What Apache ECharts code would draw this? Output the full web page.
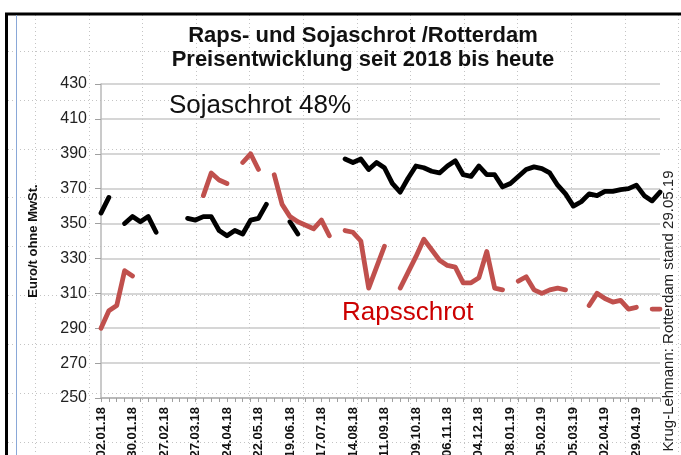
<!DOCTYPE html>
<html>
<head>
<meta charset="utf-8">
<script src="https://cdn.jsdelivr.net/npm/echarts@6/dist/echarts.min.js"></script>
<style>
  html, body { margin: 0; padding: 0; background: #fff; }
  #chart { width: 681px; height: 455px; }
</style>
</head>
<body>
<div id="chart"></div>
<script>
// weekly quotation dates (Rotterdam)
const dates = [
  '02.01.18', '09.01.18', '16.01.18', '23.01.18', '30.01.18', '06.02.18', '13.02.18', '20.02.18',
  '27.02.18', '06.03.18', '13.03.18', '20.03.18', '27.03.18', '03.04.18', '10.04.18', '17.04.18',
  '24.04.18', '01.05.18', '08.05.18', '15.05.18', '22.05.18', '29.05.18', '05.06.18', '12.06.18',
  '19.06.18', '26.06.18', '03.07.18', '10.07.18', '17.07.18', '24.07.18', '31.07.18', '07.08.18',
  '14.08.18', '21.08.18', '28.08.18', '04.09.18', '11.09.18', '18.09.18', '25.09.18', '02.10.18',
  '09.10.18', '16.10.18', '23.10.18', '30.10.18', '06.11.18', '13.11.18', '20.11.18', '27.11.18',
  '04.12.18', '11.12.18', '18.12.18', '03.01.19', '08.01.19', '15.01.19', '22.01.19', '29.01.19',
  '05.02.19', '12.02.19', '19.02.19', '26.02.19', '05.03.19', '12.03.19', '19.03.19', '26.03.19',
  '02.04.19', '09.04.19', '16.04.19', '23.04.19', '29.04.19', '07.05.19', '14.05.19', '21.05.19'
]

// Sojaschrot 48% (Euro/t), null = keine Notierung
const soja = [
  356, 365, null, 350, 354, 351, 354, 345, null, null, null, 353, 352, 354, 354, 346,
  343, 346, 344, 352, 353, 361, null, null, 351, 344, null, null, null, null, null, 387,
  385, 387, 381, 385, 382, 373, 368, 376, 383, 382, 380, 379, 383, 386, 378, 377,
  383, 378, 378, 371, 373, 377, 381, 382.5, 381.5, 379, 372, 367, 360, 362.5, 367, 366,
  368.5, 368.5, 369.5, 370, 372, 366, 363, 368
]

// Rapsschrot (Euro/t)
const raps = [
  290, 300, 303, 323, 320, null, null, null, null, null, null, null, null, 366, 379, 375,
  373, null, 385, 390, 381, null, 378, 361, 354, 351, 349, 347, 352, 343, null, 346,
  345, 340, 313, 325, 337, null, 313, 322, 331, 341, 335, 329, 326, 325, 316, 316,
  319, 334, 313, 312, null, 317, 319.5, 312, 310, 312, 313, 312, null, null, 303, 310,
  307, 305, 306, 301, 302, null, 301, 301
]

const yTicks = { min: 250, max: 430, step: 20 }

const chart = echarts.init(document.getElementById('chart'))

// excel cell grid in the background
const cellLines = []
for (let x = 35; x < 681; x += 53.6) {
  cellLines.push({
    type: 'line', z: -10, silent: true,
    shape: { x1: Math.round(x) + 0.5, y1: 15, x2: Math.round(x) + 0.5, y2: 455 },
    style: { stroke: '#c4c4c4', lineWidth: 1, lineDash: [1, 3] }
  })
}
for (let y = 50.7; y < 455; y += 48.9) {
  cellLines.push({
    type: 'line', z: -10, silent: true,
    shape: { x1: 8, y1: Math.round(y) + 0.5, x2: 681, y2: Math.round(y) + 0.5 },
    style: { stroke: '#c4c4c4', lineWidth: 1, lineDash: [1, 3] }
  })
}

const option = {
  backgroundColor: '#fff',
  animation: false,
  title: {
    text: 'Raps- und Sojaschrot /Rotterdam\nPreisentwicklung seit 2018 bis heute',
    left: 358,
    top: 19,
    textAlign: 'center',
    textStyle: {
      fontFamily: 'Liberation Sans',
      fontSize: 22,
      fontWeight: 'bold',
      lineHeight: 24,
      color: '#111'
    }
  },
  grid: {
    left: 101,
    right: 21,
    top: 84,
    bottom: 57,
    outerBoundsMode: 'none'
  },
  xAxis: {
    type: 'category',
    data: dates,
    boundaryGap: false,
    axisLine: { lineStyle: { color: '#b0b0b0', width: 1.5 } },
    axisTick: { show: true, interval: 0, length: 4, lineStyle: { color: '#a0a0a0' } },
    axisLabel: {
      interval: 3,
      rotate: 90,
      margin: 9,
      fontFamily: 'Liberation Sans',
      fontSize: 13,
      fontWeight: 'bold',
      color: '#111'
    },
    splitLine: { show: false }
  },
  yAxis: {
    type: 'value',
    min: yTicks.min,
    max: yTicks.max,
    interval: yTicks.step,
    name: 'Euro/t ohne MwSt.',
    nameLocation: 'middle',
    nameGap: 61,
    nameTextStyle: {
      fontFamily: 'Liberation Sans',
      fontSize: 13,
      fontWeight: 'bold',
      color: '#111'
    },
    axisLine: { show: true, lineStyle: { color: '#b8b8b8', width: 1.5 } },
    axisTick: { show: true, length: 6, lineStyle: { color: '#a0a0a0' } },
    axisLabel: {
      fontFamily: 'Liberation Sans',
      fontSize: 16,
      color: '#222',
      margin: 14
    },
    splitLine: { show: true, lineStyle: { color: '#c8c8c8', width: 1.5 } }
  },
  series: [
    {
      name: 'Sojaschrot 48%',
      type: 'line',
      data: soja,
      symbol: 'none',
      connectNulls: false,
      z: 3,
      lineStyle: { color: '#000', width: 4.8, cap: 'round', join: 'round' }
    },
    {
      name: 'Rapsschrot',
      type: 'line',
      data: raps,
      symbol: 'none',
      connectNulls: false,
      z: 3,
      lineStyle: { color: '#c0504d', width: 4.8, cap: 'round', join: 'round' }
    }
  ],
  graphic: cellLines.concat([
    {
      type: 'line', silent: true, z: 5,
      shape: { x1: 5, y1: 14, x2: 681, y2: 14 },
      style: { stroke: '#000', lineWidth: 3 }
    },
    {
      type: 'line', silent: true, z: 5,
      shape: { x1: 6.5, y1: 13, x2: 6.5, y2: 455 },
      style: { stroke: '#000', lineWidth: 3 }
    },
    {
      type: 'line', silent: true, z: 5,
      shape: { x1: 16.5, y1: 15, x2: 16.5, y2: 455 },
      style: { stroke: '#8aa8d8', lineWidth: 1 }
    },
    {
      type: 'text', z: 5,
      left: 169, top: 93,
      style: {
        text: 'Sojaschrot 48%',
        fontFamily: 'Liberation Sans',
        fontSize: 26,
        fill: '#111'
      }
    },
    {
      type: 'text', z: 5,
      left: 342, top: 300,
      style: {
        text: 'Rapsschrot',
        fontFamily: 'Liberation Sans',
        fontSize: 26,
        fill: '#cc0000'
      }
    },
    {
      type: 'text', z: 5,
      x: 669, y: 311,
      rotation: Math.PI / 2,
      style: {
        text: 'Krug-Lehmann: Rotterdam stand 29.05.19',
        fontFamily: 'Liberation Sans',
        fontSize: 15,
        fill: '#222',
        align: 'center',
        verticalAlign: 'middle'
      }
    }
  ])
}

chart.setOption(option)
window.addEventListener('resize', function() {
  chart.resize()
})
</script>
</body>
</html>
